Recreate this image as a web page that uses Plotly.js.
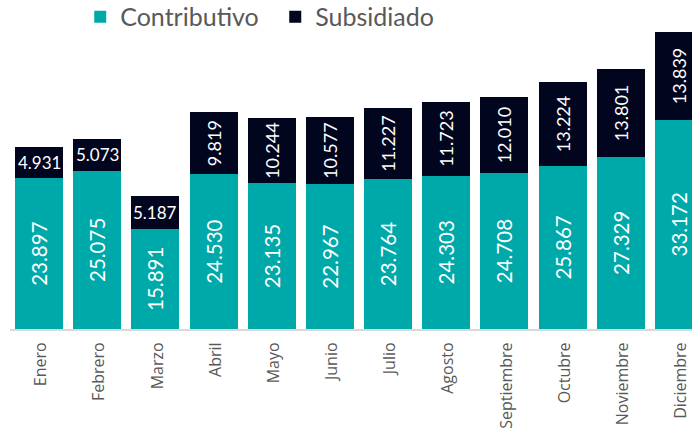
<!DOCTYPE html>
<html>
<head>
<meta charset="utf-8">
<script src="https://cdn.plot.ly/plotly-3.0.1.min.js"></script>
<style>
  html, body { margin: 0; padding: 0; background: #ffffff; overflow: hidden; }
  #chart { width: 692px; height: 431px; }
</style>
</head>
<body>
<div id="chart"></div>
<script>
const months = ['Enero','Febrero','Marzo','Abril','Mayo','Junio','Julio','Agosto','Septiembre','Octubre','Noviembre','Diciembre'];
const contributivo = [23897,25075,15891,24530,23135,22967,23764,24303,24708,25867,27329,33172];
const subsidiado = [4931,5073,5187,9819,10244,10577,11227,11723,12010,13224,13801,13839];
const flatLabelCount = 3; // first months show the Subsidiado label horizontally

const TEAL = '#00A9A9';
const NAVY = '#02051E';

function fmt(v) {
  return String(v).replace(/\B(?=(\d{3})+(?!\d))/g, '.');
}

const traceContrib = {
  type: 'bar', name: 'Contributivo', x: months, y: contributivo,
  marker: { color: TEAL },
  text: contributivo.map(fmt),
  textposition: 'inside', insidetextanchor: 'middle', textangle: -90, constraintext: 'none',
  textfont: { family: 'Lato', size: 20.5, color: '#ffffff' }, hoverinfo: 'skip'
};

const traceSubs = {
  type: 'bar', name: 'Subsidiado', x: months, y: subsidiado,
  marker: { color: NAVY },
  text: subsidiado.map((v, i) => i < flatLabelCount ? '' : fmt(v)),
  textposition: 'inside', insidetextanchor: 'middle', textangle: -90, constraintext: 'none',
  textfont: { family: 'Lato', size: 18, color: '#ffffff' }, hoverinfo: 'skip'
};

const annotations = months.slice(0, flatLabelCount).map((m, i) => ({
  x: m, y: contributivo[i] + subsidiado[i] / 2, xref: 'x', yref: 'y',
  text: fmt(subsidiado[i]), showarrow: false, xanchor: 'center', yanchor: 'middle',
  font: { family: 'Lato', size: 17, color: '#ffffff' }
}));

const layout = {
  width: 692, height: 431,
  margin: { l: 10, r: 0, t: 20, b: 102, pad: 0, autoexpand: false },
  paper_bgcolor: '#ffffff', plot_bgcolor: '#ffffff',
  barmode: 'stack', bargap: 0.175, separators: ',.',
  showlegend: true, hovermode: false,
  legend: {
    orientation: 'h', x: 0.103, xanchor: 'left', y: 1.01, yanchor: 'middle',
    font: { family: 'Lato', size: 25, color: '#595959' },
    bgcolor: 'rgba(0,0,0,0)', traceorder: 'normal',
    entrywidth: 150, entrywidthmode: 'pixels'
  },
  xaxis: {
    type: 'category', range: [-0.5, 11.224], tickangle: -90, ticks: '',
    ticklabelstandoff: 5, ticklabelshift: 2,
    showgrid: false, zeroline: false, showline: true, linecolor: '#d9d9d9', linewidth: 2,
    tickfont: { family: 'Open Sans', size: 16, color: '#595959' },
    automargin: false, fixedrange: true
  },
  yaxis: { range: [0, 48954], visible: false, showgrid: false, zeroline: false, fixedrange: true },
  annotations: annotations
};

Plotly.newPlot('chart', [traceContrib, traceSubs], layout, { displayModeBar: false, staticPlot: true });
</script>
</body>
</html>
